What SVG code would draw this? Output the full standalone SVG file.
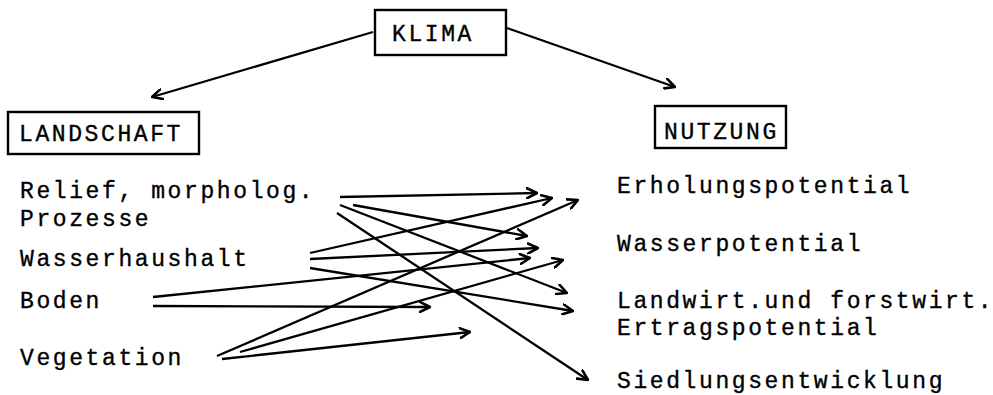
<svg xmlns="http://www.w3.org/2000/svg" width="993" height="395" viewBox="0 0 993 395">
<style>
text{font-family:"Liberation Mono","Courier New",monospace;font-size:23px;letter-spacing:2.6px;fill:#000;stroke:#000;stroke-width:0.35px}
.box{fill:none;stroke:#000;stroke-width:2.4}
.c line{stroke:#000;stroke-width:2.3;fill:none;marker-end:url(#ah)}
</style>
<defs>
<marker id="ah" viewBox="0 0 12 12" refX="11" refY="6" markerWidth="12" markerHeight="12" markerUnits="userSpaceOnUse" orient="auto">
<path d="M1,1 L11,6 L1,11" fill="none" stroke="#000" stroke-width="2.6" stroke-linecap="round" stroke-linejoin="round"/>
</marker>
</defs>
<rect width="993" height="395" fill="#fff"/>
<g id="klima"><rect class="box" x="375" y="10" width="131" height="45"/><text x="392" y="41">KLIMA</text></g>
<g id="landschaft"><rect class="box" x="8" y="112" width="191" height="42"/><text x="19" y="141">LANDSCHAFT</text></g>
<g id="nutzung"><rect class="box" x="655" y="106" width="131" height="42"/><text x="664" y="139">NUTZUNG</text></g>
<g id="relief"><text x="20" y="198">Relief, morpholog.</text><text x="20" y="226">Prozesse</text></g>
<g id="wasserhaushalt"><text x="20" y="266">Wasserhaushalt</text></g>
<g id="boden"><text x="20" y="308">Boden</text></g>
<g id="vegetation"><text x="20" y="365">Vegetation</text></g>
<g id="erholung"><text x="617" y="193">Erholungspotential</text></g>
<g id="wasserpot"><text x="617" y="251">Wasserpotential</text></g>
<g id="ertrag"><text x="617" y="308">Landwirt.und forstwirt.</text><text x="617" y="335">Ertragspotential</text></g>
<g id="siedlung"><text x="617" y="388">Siedlungsentwicklung</text></g>
<g id="connectors" class="c">
<line x1="373" y1="32" x2="152" y2="97"/>
<line x1="507" y1="28" x2="675" y2="87"/>
<line x1="340" y1="197" x2="537" y2="193"/>
<line x1="353" y1="205" x2="527" y2="236"/>
<line x1="340" y1="205" x2="567" y2="293"/>
<line x1="337" y1="213" x2="588" y2="380"/>
<line x1="310" y1="253" x2="552" y2="198"/>
<line x1="310" y1="259" x2="538" y2="248"/>
<line x1="310" y1="268" x2="573" y2="311"/>
<line x1="153" y1="297" x2="530" y2="258"/>
<line x1="153" y1="306" x2="430" y2="307"/>
<line x1="217" y1="356" x2="578" y2="200"/>
<line x1="240" y1="352" x2="563" y2="260"/>
<line x1="222" y1="359" x2="470" y2="332"/>
</g>
</svg>
